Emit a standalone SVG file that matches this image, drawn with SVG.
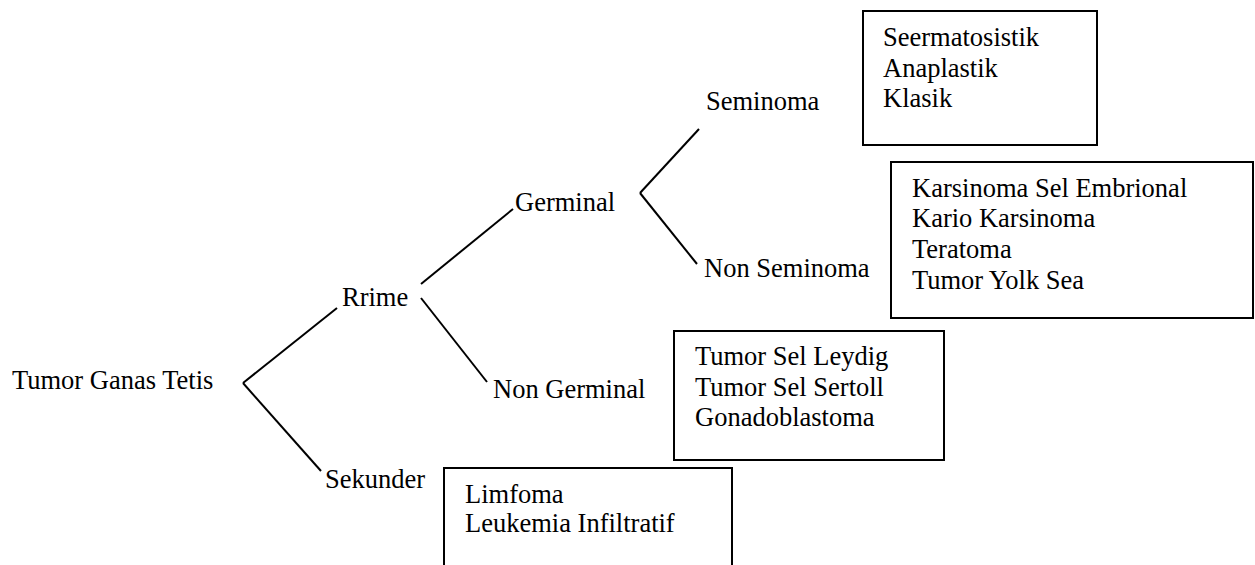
<svg xmlns="http://www.w3.org/2000/svg" width="1255" height="565" viewBox="0 0 1255 565">
<style>
text{font-family:"Liberation Serif","Times New Roman",serif;font-size:26.5px;fill:#000}
.box{fill:#fff;stroke:#000;stroke-width:2}
.con line{stroke:#000;stroke-width:2;stroke-linecap:butt}
</style>
<rect width="1255" height="565" fill="#fff"/>
<g id="connectors" class="con">
<line x1="243" y1="383" x2="337" y2="308"/>
<line x1="243" y1="383" x2="321" y2="471"/>
<line x1="421" y1="284" x2="513" y2="209"/>
<line x1="421" y1="298" x2="487" y2="382"/>
<line x1="640" y1="193" x2="699" y2="129"/>
<line x1="640" y1="193" x2="697" y2="264"/>
</g>
<g id="root"><text x="12" y="389">Tumor Ganas Tetis</text></g>
<g id="primer"><text x="342" y="306">Rrime</text></g>
<g id="sekunder"><text x="325" y="488">Sekunder</text></g>
<g id="germinal"><text x="515" y="211">Germinal</text></g>
<g id="non-germinal"><text x="493" y="398">Non Germinal</text></g>
<g id="seminoma"><text x="706" y="110">Seminoma</text></g>
<g id="non-seminoma"><text x="704" y="277">Non Seminoma</text></g>
<g id="box-seminoma">
<rect class="box" x="863" y="11" width="234" height="134"/>
<text x="883" y="46">Seermatosistik</text>
<text x="883" y="77">Anaplastik</text>
<text x="883" y="107">Klasik</text>
</g>
<g id="box-non-seminoma">
<rect class="box" x="891" y="162" width="362" height="156"/>
<text x="912" y="197">Karsinoma Sel Embrional</text>
<text x="912" y="227">Kario Karsinoma</text>
<text x="912" y="258">Teratoma</text>
<text x="912" y="289">Tumor Yolk Sea</text>
</g>
<g id="box-non-germinal">
<rect class="box" x="674" y="331" width="270" height="129"/>
<text x="695" y="365">Tumor Sel Leydig</text>
<text x="695" y="396">Tumor Sel Sertoll</text>
<text x="695" y="426">Gonadoblastoma</text>
</g>
<g id="box-sekunder">
<rect class="box" x="444" y="468" width="288" height="110"/>
<text x="465" y="503">Limfoma</text>
<text x="465" y="532">Leukemia Infiltratif</text>
</g>
</svg>
